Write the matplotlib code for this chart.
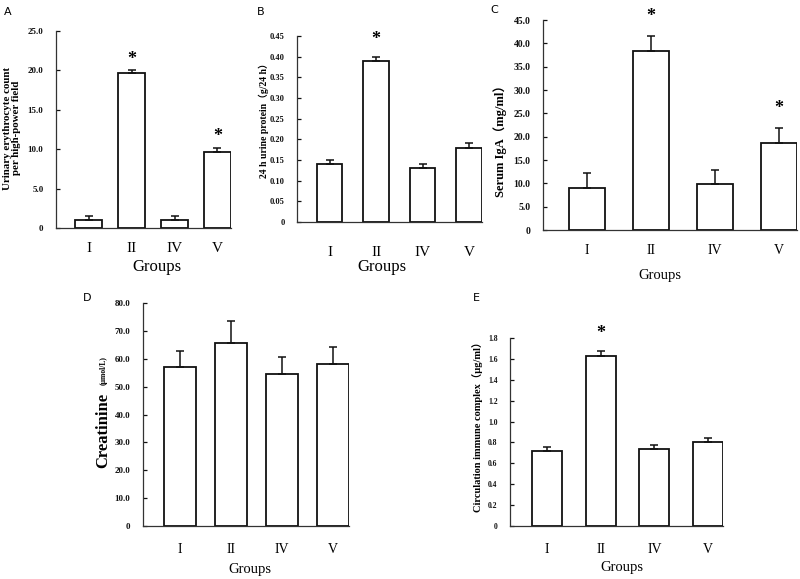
#!/usr/bin/env python3
"""
Five-panel bar chart of renal / immune indices by group (A-E).
"""

import matplotlib
matplotlib.use("Agg")
import matplotlib.pyplot as plt

W, H = 800, 579
SERIF = ["Liberation Serif", "DejaVu Serif"]
SERIF_CJK = ["Liberation Serif", "Noto Sans CJK SC"]

GROUPS = ["I", "II", "IV", "V"]

# panel values: means and upper error bars
RBC_MEAN = [1.0, 19.7, 1.0, 9.7]
RBC_ERR = [0.5, 0.3, 0.5, 0.5]
RBC_STAR = [False, True, False, True]

PROT_MEAN = [0.14, 0.39, 0.13, 0.18]
PROT_ERR = [0.01, 0.01, 0.01, 0.01]
PROT_STAR = [False, True, False, False]

IGA_MEAN = [9.0, 38.4, 9.9, 18.7]
IGA_ERR = [3.2, 3.2, 2.9, 3.2]
IGA_STAR = [False, True, False, True]

CREA_MEAN = [56.9, 65.6, 54.6, 58.2]
CREA_ERR = [6.0, 8.0, 5.9, 6.0]

CIC_MEAN = [0.72, 1.63, 0.74, 0.80]
CIC_ERR = [0.04, 0.05, 0.04, 0.04]
CIC_STAR = [False, True, False, False]

A_TICKS = [0, 5, 10, 15, 20, 25]
A_TICKLABELS = ["0", "5.0", "10.0", "15.0", "20.0", "25.0"]
B_TICKS = [0, 0.05, 0.10, 0.15, 0.20, 0.25, 0.30, 0.35, 0.40, 0.45]
B_TICKLABELS = ["0", "0.05", "0.10", "0.15", "0.20", "0.25", "0.30", "0.35", "0.40", "0.45"]
C_TICKS = [0, 5, 10, 15, 20, 25, 30, 35, 40, 45]
C_TICKLABELS = ["0", "5.0", "10.0", "15.0", "20.0", "25.0", "30.0", "35.0", "40.0", "45.0"]
D_TICKS = [0, 10, 20, 30, 40, 50, 60, 70, 80]
D_TICKLABELS = ["0", "10.0", "20.0", "30.0", "40.0", "50.0", "60.0", "70.0", "80.0"]
E_TICKS = [0, 0.2, 0.4, 0.6, 0.8, 1.0, 1.2, 1.4, 1.6, 1.8]
E_TICKLABELS = ["0", "0.2", "0.4", "0.6", "0.8", "1.0", "1.2", "1.4", "1.6", "1.8"]


def px_axes(fig, left, right, top, bottom):
    """Add axes from pixel box (y measured from top)."""
    return fig.add_axes([left / W, 1 - bottom / H, (right - left) / W, (bottom - top) / H])


def draw_panel(ax, means, errs, stars, ticks, ticklabels, width, xleft,
               tick_fs, xtick_fs, xpad, star_off):
    x = range(len(GROUPS))
    ax.bar(x, means, width=width, color="white", edgecolor="#111111", linewidth=1.3, zorder=2)
    ax.errorbar(x, means, yerr=[[0] * len(errs), errs], fmt="none", ecolor="#111111",
                elinewidth=1.1, capsize=3, capthick=1.1, zorder=3)
    if stars:
        for i, s in enumerate(stars):
            if s:
                ax.annotate("*", (i, means[i] + errs[i]), xytext=(0, star_off),
                            textcoords="offset points", ha="center", va="bottom",
                            fontsize=13, fontweight="bold", family=SERIF,
                            annotation_clip=False)
    ax.set_xlim(xleft, len(GROUPS) - 1 + width / 2)
    ax.set_ylim(0, ticks[-1])
    ax.set_yticks(ticks)
    ax.set_yticklabels(ticklabels, fontsize=tick_fs, fontweight="bold", family=SERIF)
    ax.set_xticks(list(x))
    ax.set_xticklabels(GROUPS, fontsize=xtick_fs, family=SERIF)
    ax.tick_params(axis="y", direction="in", length=3, width=0.9, pad=9, colors="#111111")
    ax.tick_params(axis="x", length=0, pad=xpad)
    for side in ("top", "right"):
        ax.spines[side].set_visible(False)
    for side in ("left", "bottom"):
        ax.spines[side].set_linewidth(0.9)
        ax.spines[side].set_color("#333333")
        ax.spines[side].set_zorder(4)


def main():
    fig = plt.figure(figsize=(W / 100, H / 100), dpi=100)

    def ftext(xp, yp, s, **kw):
        fig.text(xp / W, 1 - yp / H, s, **kw)

    def ylab(xp, yp, s, fs, fam=SERIF, **kw):
        ftext(xp, yp, s, fontsize=fs, fontweight="bold", family=fam,
              rotation=90, ha="center", va="center", **kw)

    def xlab(xp, yp, fs):
        ftext(xp, yp, "Groups", fontsize=fs, family=SERIF, ha="center", va="center")

    # A
    ax = px_axes(fig, 56, 231, 31, 228)
    draw_panel(ax, RBC_MEAN, RBC_ERR, RBC_STAR, A_TICKS, A_TICKLABELS, 0.63, -0.76, 6.5, 11, 10, 2)
    ylab(12, 128, "Urinary erythrocyte count\nper high-power field", 7.8, linespacing=1.0)
    xlab(157, 267, 12)
    ftext(4, 12, "A", fontsize=8, va="center", family="DejaVu Sans")

    # B
    ax = px_axes(fig, 297, 482, 36, 222)
    draw_panel(ax, PROT_MEAN, PROT_ERR, PROT_STAR, B_TICKS, B_TICKLABELS, 0.55, -0.70, 6, 11, 17, 6)
    ylab(264, 118, "24 h urine protein（g/24 h）", 7, SERIF_CJK)
    xlab(382, 267, 12)
    ftext(257, 12, "B", fontsize=8, va="center", family="DejaVu Sans")

    # C
    ax = px_axes(fig, 543, 797, 20, 230)
    draw_panel(ax, IGA_MEAN, IGA_ERR, IGA_STAR, C_TICKS, C_TICKLABELS, 0.56, -0.69, 7, 10, 10, 8)
    ylab(500, 138, "Serum IgA（mg/ml）", 9, SERIF_CJK)
    xlab(660, 276, 10.5)
    ftext(490, 10, "C", fontsize=8, va="center", family="DejaVu Sans")

    # D
    ax = px_axes(fig, 143, 349, 303, 526)
    draw_panel(ax, CREA_MEAN, CREA_ERR, None, D_TICKS, D_TICKLABELS, 0.63, -0.73, 6.5, 10, 12, 0)
    xlab(250, 569, 10.5)
    ftext(103, 468, "Creatinine", fontsize=12, fontweight="bold", family=SERIF,
          rotation=90, ha="left", va="center", rotation_mode="anchor")
    ftext(104, 385, "(μmol/L)", fontsize=5.5, fontweight="bold", family=SERIF,
          rotation=90, ha="left", va="center", rotation_mode="anchor")
    ftext(83, 298, "D", fontsize=8, va="center", family="DejaVu Sans")

    # E
    ax = px_axes(fig, 510, 723, 338, 526)
    draw_panel(ax, CIC_MEAN, CIC_ERR, CIC_STAR, E_TICKS, E_TICKLABELS, 0.56, -0.69, 5.5, 10, 12, 6)
    ylab(478, 424, "Circulation immune complex（μg/ml）", 7.5, SERIF_CJK)
    xlab(622, 568, 10.5)
    ftext(473, 298, "E", fontsize=8, va="center", family="DejaVu Sans")

    fig.savefig("out.png", dpi=100)
    plt.close(fig)


if __name__ == "__main__":
    main()
